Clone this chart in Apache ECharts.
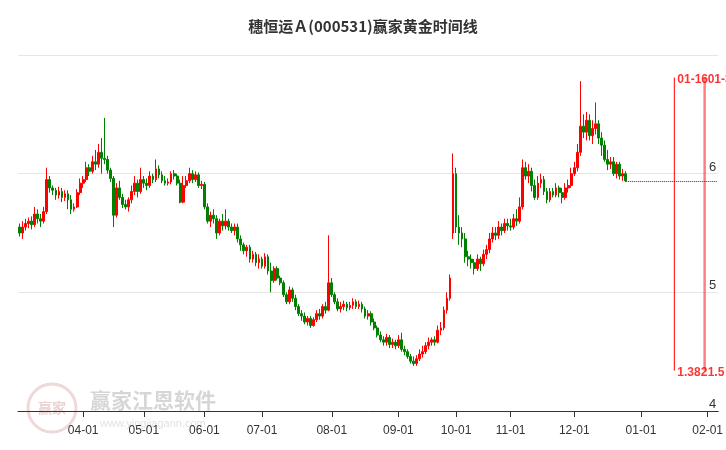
<!DOCTYPE html>
<html><head><meta charset="utf-8">
<script src="https://cdn.jsdelivr.net/npm/echarts@6/dist/echarts.min.js"></script>
<style>html,body{margin:0;padding:0;background:#fff}#c{width:726px;height:450px}</style>
</head><body><div id="c"></div>
<script>
const title = '穗恒运Ａ(000531)赢家黄金时间线';
const holidays = ['2024-04-04','2024-04-05','2024-05-01','2024-05-02','2024-05-03','2024-06-10','2024-09-16','2024-09-17','2024-10-01','2024-10-02','2024-10-03','2024-10-04','2024-10-07','2025-01-01'];
// [open, close, low, high] per trading day from 2024-03-01
const candles = [
[5.55,5.50,5.47,5.58],[5.50,5.55,5.45,5.60],[5.55,5.58,5.52,5.62],[5.58,5.60,5.54,5.63],[5.60,5.57,5.53,5.64],[5.57,5.66,5.55,5.72],[5.66,5.62,5.58,5.70],[5.62,5.60,5.55,5.66],[5.60,5.68,5.58,5.72],[5.68,5.95,5.66,6.05],[5.95,5.88,5.84,5.98],[5.88,5.86,5.82,5.90],[5.86,5.82,5.78,5.88],[5.82,5.85,5.79,5.89],[5.85,5.80,5.76,5.88],[5.80,5.83,5.77,5.86],[5.83,5.78,5.70,5.86],[5.78,5.70,5.66,5.82],[5.70,5.72,5.68,5.75],[5.72,5.84,5.71,5.87],[5.84,5.92,5.82,5.96],
[5.92,5.95,5.88,5.98],[5.95,6.05,5.93,6.10],[6.05,6.02,5.98,6.08],[6.02,6.10,6.00,6.15],[6.10,6.08,6.03,6.20],[6.08,6.18,6.05,6.25],[6.18,6.13,6.00,6.30],[6.13,6.12,6.08,6.47],[6.12,6.03,6.00,6.15],[6.03,5.96,5.93,6.05],[5.96,5.65,5.55,5.98],[5.65,5.88,5.63,5.92],[5.88,5.80,5.78,5.94],[5.80,5.74,5.71,5.83],[5.74,5.72,5.70,5.78],[5.72,5.78,5.68,5.80],[5.78,5.85,5.75,5.90],[5.85,5.92,5.82,5.98],[5.92,5.85,5.80,5.95],[5.85,5.95,5.83,6.05],
[5.95,5.92,5.88,5.98],[5.92,5.90,5.86,5.96],[5.90,5.98,5.88,6.02],[5.98,5.95,5.92,6.00],[5.95,6.04,5.93,6.12],[6.04,5.99,5.96,6.07],[5.99,5.94,5.92,6.02],[5.94,5.92,5.90,5.98],[5.92,5.93,5.90,5.96],[5.93,6.00,5.91,6.02],[6.00,5.98,5.95,6.03],[5.98,5.92,5.90,6.00],[5.92,5.76,5.75,5.95],[5.76,5.90,5.75,5.98],[5.90,5.94,5.88,5.98],[5.94,6.00,5.92,6.05],[6.00,5.95,5.92,6.03],[5.95,5.99,5.93,6.02],[5.99,5.90,5.88,6.01],[5.90,5.91,5.87,5.94],
[5.91,5.72,5.70,5.93],[5.72,5.60,5.58,5.75],[5.60,5.65,5.55,5.68],[5.65,5.62,5.58,5.70],[5.62,5.50,5.45,5.65],[5.50,5.60,5.48,5.62],[5.60,5.56,5.52,5.66],[5.56,5.60,5.53,5.70],[5.60,5.55,5.52,5.62],[5.55,5.52,5.50,5.58],[5.52,5.55,5.48,5.58],[5.55,5.45,5.42,5.58],[5.45,5.40,5.35,5.48],[5.40,5.35,5.32,5.42],[5.35,5.38,5.30,5.40],[5.38,5.28,5.25,5.40],[5.28,5.32,5.25,5.35],[5.32,5.25,5.22,5.34],[5.25,5.28,5.20,5.32],
[5.28,5.22,5.20,5.30],[5.22,5.30,5.20,5.33],[5.30,5.18,5.15,5.32],[5.18,5.10,5.00,5.25],[5.10,5.20,5.08,5.22],[5.20,5.12,5.10,5.22],[5.12,5.08,5.06,5.14],[5.08,4.98,4.96,5.10],[4.98,4.92,4.90,5.00],[4.92,5.02,4.90,5.05],[5.02,4.95,4.92,5.04],[4.95,4.88,4.85,4.98],[4.88,4.82,4.80,4.90],[4.82,4.80,4.76,4.85],[4.80,4.75,4.73,4.83],[4.75,4.78,4.72,4.80],[4.78,4.72,4.70,4.80],[4.72,4.77,4.71,4.79],[4.77,4.82,4.75,4.85],[4.82,4.80,4.77,4.86],[4.80,4.88,4.78,4.90],[4.88,4.85,4.82,4.92],[4.85,5.08,4.84,5.48],
[5.08,4.98,4.96,5.12],[4.98,4.92,4.90,5.00],[4.92,4.86,4.84,4.95],[4.86,4.88,4.83,4.92],[4.88,4.90,4.85,4.93],[4.90,4.87,4.84,4.92],[4.87,4.89,4.85,4.92],[4.89,4.92,4.86,4.95],[4.92,4.88,4.86,4.94],[4.88,4.90,4.86,4.93],[4.90,4.86,4.83,4.92],[4.86,4.80,4.78,4.88],[4.80,4.82,4.77,4.85],[4.82,4.75,4.72,4.84],[4.75,4.70,4.68,4.78],[4.70,4.64,4.62,4.72],[4.64,4.60,4.58,4.67],[4.60,4.58,4.55,4.63],[4.58,4.62,4.55,4.65],[4.62,4.56,4.53,4.64],[4.56,4.58,4.53,4.61],[4.58,4.55,4.52,4.60],
[4.55,4.60,4.53,4.64],[4.60,4.52,4.50,4.66],[4.52,4.50,4.47,4.55],[4.50,4.46,4.44,4.52],[4.46,4.42,4.40,4.48],[4.42,4.40,4.38,4.46],[4.40,4.44,4.38,4.47],[4.44,4.48,4.42,4.52],[4.48,4.50,4.45,4.55],[4.50,4.55,4.48,4.58],[4.55,4.58,4.52,4.62],[4.58,4.60,4.55,4.62],[4.60,4.58,4.55,4.63],[4.58,4.68,4.57,4.72],[4.68,4.70,4.64,4.75],[4.70,4.85,4.68,4.88],[4.85,4.95,4.82,5.00],[4.95,5.12,4.93,5.15],[5.50,6.00,5.45,6.17],
[6.00,5.55,5.50,6.05],[5.55,5.50,5.40,5.65],[5.50,5.45,5.38,5.55],[5.45,5.30,5.25,5.50],[5.30,5.28,5.22,5.35],[5.28,5.25,5.20,5.32],[5.25,5.20,5.15,5.28],[5.20,5.28,5.18,5.32],[5.28,5.24,5.18,5.30],[5.24,5.32,5.22,5.36],[5.32,5.36,5.28,5.40],[5.36,5.45,5.33,5.50],[5.45,5.50,5.42,5.55],[5.50,5.48,5.44,5.55],[5.48,5.55,5.45,5.60],[5.55,5.52,5.48,5.58],[5.52,5.58,5.50,5.62],[5.58,5.56,5.52,5.62],
[5.56,5.55,5.52,5.62],[5.55,5.62,5.53,5.66],[5.62,5.60,5.56,5.70],[5.60,5.72,5.58,5.80],[5.72,6.05,5.70,6.12],[6.05,5.98,5.95,6.10],[5.98,6.02,5.92,6.08],[6.02,5.90,5.85,6.05],[5.90,5.80,5.78,5.95],[5.80,5.92,5.78,5.98],[5.92,5.95,5.88,6.00],[5.95,5.85,5.82,5.98],[5.85,5.78,5.75,5.88],[5.78,5.85,5.76,5.88],[5.85,5.82,5.80,5.88],[5.82,5.88,5.80,5.92],[5.88,5.84,5.80,5.90],[5.84,5.80,5.75,5.88],[5.80,5.88,5.78,5.92],[5.88,5.90,5.84,5.95],[5.90,6.00,5.88,6.05],
[6.00,6.05,5.98,6.10],[6.05,6.18,6.02,6.25],[6.18,6.40,6.15,6.78],[6.40,6.35,6.30,6.50],[6.35,6.45,6.28,6.52],[6.45,6.32,6.28,6.50],[6.32,6.38,6.25,6.45],[6.38,6.42,6.33,6.60],[6.42,6.30,6.25,6.45],[6.30,6.24,6.15,6.35],[6.24,6.12,6.10,6.28],[6.12,6.08,6.03,6.20],[6.08,6.10,6.04,6.14],[6.10,6.00,5.98,6.14],[6.00,6.08,5.96,6.10],[6.08,5.98,5.95,6.10],[5.98,6.00,5.94,6.04],[6.00,5.94,5.93,6.02]
];
const timeLines = ['2025-01-17','2025-01-31'];
const timeTopLabels = ['01-16','01-31'];
const timeBottomLabels = ['1.382','1.5'];
const lineTop = 6.81, lineBottom = 4.34;
const endDate = '2025-02-06';

const dates = [];
let d = new Date(Date.UTC(2024,2,1));
while (true) {
  const s = d.toISOString().slice(0,10);
  if (s > endDate) break;
  const wd = d.getUTCDay();
  if (wd !== 0 && wd !== 6 && holidays.indexOf(s) < 0) dates.push(s);
  d = new Date(d.getTime() + 86400000);
}
const isMonthStart = i => i > 0 && dates[i].slice(5,7) !== dates[i-1].slice(5,7);
const data = candles.map(c=>[c[0], c[1], c[2], c[3]]);
const last = candles[candles.length-1][1];
const lastDate = dates[candles.length-1];

const chart = echarts.init(document.getElementById('c'));
chart.setOption({
  animation:false,
  title:{text:title,left:'center',top:14,textStyle:{fontSize:15,fontWeight:'bold',color:'#333',fontFamily:'Noto Sans CJK SC'}},
  graphic:[
    {type:'circle',shape:{cx:52,cy:408,r:24},style:{fill:'none',stroke:'#eed8d8',lineWidth:3},z:0},
    {type:'text',style:{x:52,y:408,text:'赢家',fill:'#ecd2d2',font:'bold 14px "Noto Sans CJK SC"',align:'center',verticalAlign:'middle'},z:0},
    {type:'text',style:{x:90,y:400,text:'赢家江恩软件',fill:'#d6d6d6',font:'bold 21px "Noto Sans CJK SC"',verticalAlign:'middle'},z:0},
    {type:'text',style:{x:100,y:424,text:'www.yingjiagann.com',fill:'#e2e2e2',font:'11px sans-serif',verticalAlign:'middle'},z:0}
  ],
  grid:{left:18,right:4,top:55,bottom:39},
  xAxis:{type:'category',data:dates,boundaryGap:true,
    axisLine:{lineStyle:{color:'#333'}},
    axisTick:{show:true,length:6,alignWithLabel:true,interval:(i)=>isMonthStart(i),lineStyle:{color:'#333'}},
    axisLabel:{interval:(i)=>isMonthStart(i),formatter:(v)=>v.slice(5,7)+'-01',color:'#333',fontSize:12,margin:14},
    splitLine:{show:false}},
  yAxis:{type:'value',position:'right',min:4,max:7,interval:1,
    axisLine:{show:false},axisTick:{show:false},
    axisLabel:{inside:true,color:'#333',fontSize:13,verticalAlign:'bottom',showMaxLabel:false,margin:2},
    splitLine:{lineStyle:{color:'#e6e6e6'}}},
  series:[
    {type:'candlestick',data:data,barWidth:'75%',
      itemStyle:{color:'#ff0000',color0:'#008000',borderColor:'#ff0000',borderColor0:'#008000',borderWidth:1},
      markLine:{silent:true,symbol:'none',label:{show:false},
        lineStyle:{color:'#006000',type:'dotted',width:1},
        data:[[{coord:[lastDate,last]},{coord:[dates[dates.length-1],last]}]]}},
    {type:'line',data:[[timeLines[0],lineBottom],[timeLines[0],lineTop]],symbol:'none',lineStyle:{color:'#ff0000',width:1}},
    {type:'line',data:[[timeLines[1],lineBottom],[timeLines[1],lineTop]],symbol:'none',lineStyle:{color:'rgba(255,0,0,0.5)',width:2.5}},
    {type:'scatter',symbolSize:0,data:timeLines.map((t,i)=>({value:[t,lineTop],label:{formatter:timeTopLabels[i]}})),
      label:{show:true,position:'right',distance:3,color:'#ff0000',fontWeight:'bold',fontSize:12,offset:[0,2]}},
    {type:'scatter',symbolSize:0,data:timeLines.map((t,i)=>({value:[t,lineBottom],label:{formatter:timeBottomLabels[i]}})),
      label:{show:true,position:'right',distance:3,color:'#ff0000',fontWeight:'bold',fontSize:12,offset:[0,2]}}
  ]
});
</script></body></html>
